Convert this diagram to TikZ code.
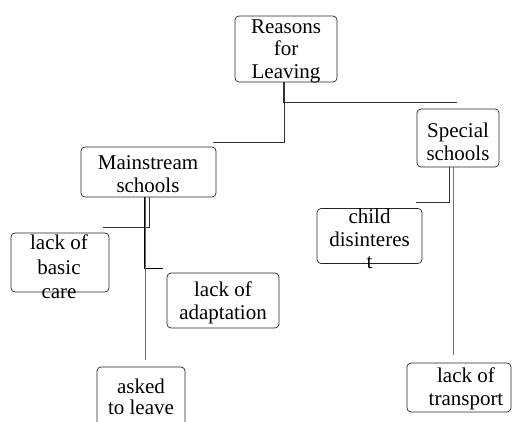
\documentclass[tikz,border=0pt]{standalone}
\usepackage{fontspec}
\setmainfont{Liberation Serif}
\begin{document}
\begin{tikzpicture}[x=1pt,y=-1pt,
  box/.style={draw=black!85,line width=0.7pt,rounded corners=4pt,inner sep=0pt,fill=white},
  txt/.style={align=center,inner sep=0pt,font=\fontsize{21}{22.5}\selectfont},
  conn/.style={draw=black!80,line width=0.7pt}]
\useasboundingbox (0,0) rectangle (512,421);
% boxes
\node[box,minimum width=102pt,minimum height=66pt] (R) at (286,49) {};
\node[box,minimum width=135pt,minimum height=50pt] (M) at (148.5,172) {};
\node[box,minimum width=82pt,minimum height=58pt] (S) at (458,138) {};
\node[box,minimum width=98pt,minimum height=59pt] (B) at (60,262.5) {};
\node[box,minimum width=112pt,minimum height=55pt] (A) at (223,300.5) {};
\node[box,minimum width=88pt,minimum height=60pt] (L) at (141,397) {};
\node[box,minimum width=105pt,minimum height=55pt] (C) at (369.5,236) {};
\node[box,minimum width=104pt,minimum height=49pt] (T) at (459,387.5) {};
% texts
\node[txt] (Rt) at (286,51) {Reasons\\for\\Leaving};
\node[txt] (Mt) at (148,174) {Mainstream\\schools};
\node[txt] (St) at (458,142) {Special\\schools};
\node[txt,font=\fontsize{21}{24.5}\selectfont] (Bt) at (59,267) {lack of\\basic\\care};
\node[txt] (At) at (223,303) {lack of\\adaptation};
\node[txt,font=\fontsize{21}{21}\selectfont] (Lt) at (141,396.5) {asked\\to leave};
\node[txt] (Ct) at (369.5,239) {child\\disinteres\\t};
\node[txt] (Tt) at (466,389) {lack of\\transport};
% connectors
\draw[conn] ([xshift=-3pt]R.south) |- ([xshift=-1pt,yshift=6pt]S.north);
\draw[conn] ([xshift=-1.5pt]R.south) |- ([xshift=-3pt,yshift=4pt]M.north east);
\draw[conn] ([xshift=0.5pt]M.south) |- ([xshift=-6pt,yshift=5pt]B.north east);
\draw[conn,line width=1.5pt,draw=black] ([xshift=-3.5pt]M.south) |- ([xshift=-4pt,yshift=4pt]A.north west);
\draw[conn,draw=black!60] ([xshift=-3.5pt]M.south) -- ([xshift=-3.5pt,yshift=7pt]M.south |- L.north);
\draw[conn] ([xshift=-9pt]S.south) |- ([xshift=-6pt,yshift=6pt]C.north east);
\draw[conn,draw=black!55] ([xshift=-5pt]S.south) -- ([xshift=-5pt,yshift=8pt]S.south |- T.north);
\end{tikzpicture}
\end{document}
